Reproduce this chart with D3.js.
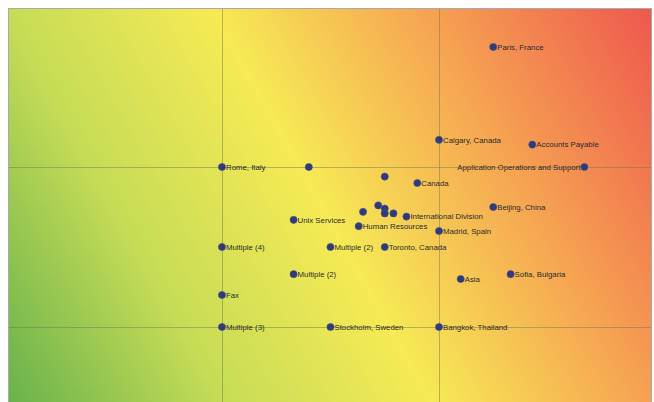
<!DOCTYPE html>
<html>
<head>
<meta charset="utf-8">
<script src="https://cdn.jsdelivr.net/npm/d3@7"></script>
<style>
  body { margin: 0; background: #fff; }
  svg { display: block; font-family: "Liberation Sans", Arial, sans-serif; }
</style>
</head>
<body>
<svg id="chart"></svg>
<script>
// point names, x/y positions in chart units (grid at 1 and 2)
const names = [
  "Paris, France", "Calgary, Canada", "Accounts Payable", "Rome, Italy", "",
  "Application Operations and Support", "", "Canada", "Beijing, China",
  "", "", "", "", "", "International Division", "Unix Services",
  "Human Resources", "Madrid, Spain", "Multiple (4)", "Multiple (2)",
  "Toronto, Canada", "Multiple (2)", "Asia", "Sofia, Bulgaria", "Fax",
  "Multiple (3)", "Stockholm, Sweden", "Bangkok, Thailand"
];
const xVals = [
  2.25, 2.0, 2.43, 1.0, 1.4,
  2.67, 1.75, 1.9, 2.25,
  1.72, 1.75, 1.75, 1.79, 1.65, 1.85, 1.33,
  1.63, 2.0, 1.0, 1.5,
  1.75, 1.33, 2.1, 2.33, 1.0,
  1.0, 1.5, 2.0
];
const yVals = [
  2.75, 2.17, 2.14, 2.0, 2.0,
  2.0, 1.94, 1.9, 1.75,
  1.76, 1.74, 1.71, 1.71, 1.72, 1.69, 1.67,
  1.63, 1.6, 1.5, 1.5,
  1.5, 1.33, 1.3, 1.33, 1.2,
  1.0, 1.0, 1.0
];
const labelLeft = ["Application Operations and Support"];
const gridX = [1, 2];
const gridY = [1, 2];

const W = 654, H = 402;
const plot = { x0: 8.5, y0: 8.5, x1: 651.5, y1: 408 };

const svg = d3.select("#chart").attr("width", W).attr("height", H);

const x = d3.scaleLinear().domain([0, 3]).range([5, 656]);
const y = d3.scaleLinear().domain([0, 3]).range([487, 7]);

// diagonal gradient: iso-lines run from top at x=220 to bottom at x=440
const dx = 394, dy = -220;
const p0 = [plot.x0, plot.y1 - 6];
const tr = [plot.x1, plot.y0];
const len2 = dx * dx + dy * dy;
const k = ((tr[0] - p0[0]) * dx + (tr[1] - p0[1]) * dy) / len2;
const defs = svg.append("defs");
const grad = defs.append("linearGradient")
  .attr("id", "bg")
  .attr("gradientUnits", "userSpaceOnUse")
  .attr("x1", p0[0]).attr("y1", p0[1])
  .attr("x2", p0[0] + dx * k).attr("y2", p0[1] + dy * k);
[
  [0, "#68b24c"], [0.25, "#c6dc56"], [0.49, "#f6ea55"],
  [0.72, "#f6a852"], [1, "#ee584e"]
].forEach(s => grad.append("stop").attr("offset", s[0]).attr("stop-color", s[1]));

defs.append("clipPath").attr("id", "clip")
  .append("rect")
  .attr("x", plot.x0).attr("y", plot.y0)
  .attr("width", plot.x1 - plot.x0).attr("height", plot.y1 - plot.y0);

svg.append("rect")
  .attr("x", plot.x0).attr("y", plot.y0)
  .attr("width", plot.x1 - plot.x0).attr("height", plot.y1 - plot.y0)
  .attr("fill", "url(#bg)");

const g = svg.append("g").attr("clip-path", "url(#clip)");

g.selectAll(".gx").data(gridX).enter().append("line")
  .attr("x1", d => Math.round(x(d)) + 0.5).attr("x2", d => Math.round(x(d)) + 0.5)
  .attr("y1", plot.y0).attr("y2", plot.y1)
  .attr("stroke", "#7a7a4a").attr("stroke-opacity", 0.5);

g.selectAll(".gy").data(gridY).enter().append("line")
  .attr("y1", d => Math.round(y(d)) + 0.5).attr("y2", d => Math.round(y(d)) + 0.5)
  .attr("x1", plot.x0).attr("x2", plot.x1)
  .attr("stroke", "#7a7a4a").attr("stroke-opacity", 0.5);

const pts = names.map((n, i) => ({ name: n, x: xVals[i], y: yVals[i] }));

const pg = g.selectAll(".pt").data(pts).enter().append("g")
  .attr("transform", d => `translate(${x(d.x)},${y(d.y)})`);

pg.append("circle")
  .attr("r", 3.6)
  .attr("fill", "#2f3a78")
  .attr("stroke", "#4a5590")
  .attr("stroke-width", 0.6);

pg.append("text")
  .attr("x", d => labelLeft.includes(d.name) ? -4 : 4)
  .attr("y", 2.7)
  .attr("text-anchor", d => labelLeft.includes(d.name) ? "end" : "start")
  .attr("font-size", "7.8px")
  .attr("fill", "#2a2a30")
  .text(d => d.name);

svg.append("rect")
  .attr("x", plot.x0).attr("y", plot.y0)
  .attr("width", plot.x1 - plot.x0).attr("height", plot.y1 - plot.y0)
  .attr("fill", "none")
  .attr("stroke", "#a8a8b0");
</script>
</body>
</html>
